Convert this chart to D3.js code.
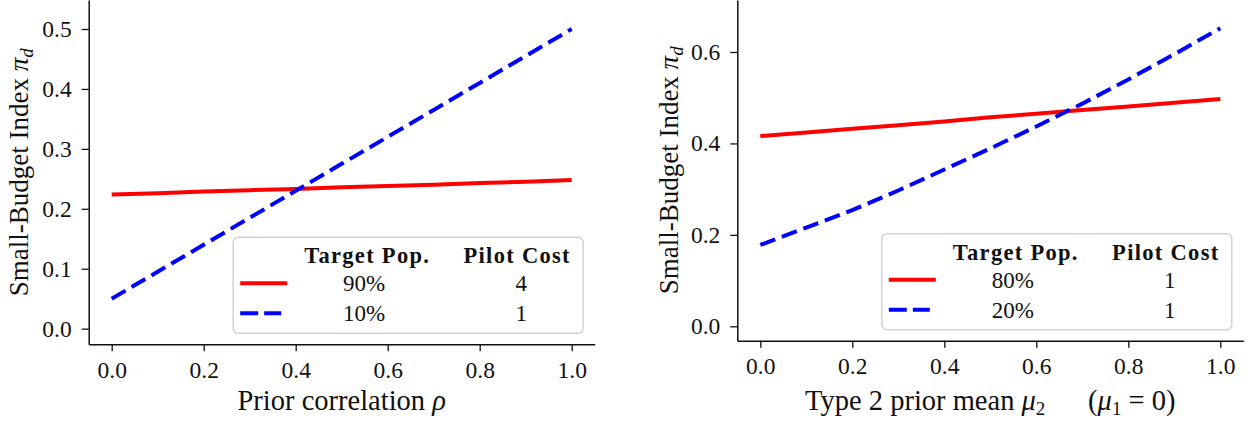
<!DOCTYPE html>
<html><head><meta charset="utf-8">
<script src="https://cdn.jsdelivr.net/npm/d3@7/dist/d3.min.js"></script>
<style>
body{margin:0;background:#fff;}
svg{display:block;}
text{font-family:"Liberation Serif",serif;fill:#111;}
</style></head>
<body><svg id="c" width="1250" height="421"></svg>
<script>
// ---- data ----
const xValues = [0, 0.1, 0.2, 0.3, 0.4, 0.5, 0.6, 0.7, 0.8, 0.9, 1.0];
const leftRed  = [0.224, 0.226, 0.229, 0.231, 0.233, 0.236, 0.238, 0.240, 0.243, 0.245, 0.248];
const leftBlue = [0.050, 0.095, 0.140, 0.185, 0.230, 0.275, 0.320, 0.365, 0.410, 0.455, 0.500];
const rightRed  = [0.416, 0.424, 0.432, 0.440, 0.448, 0.457, 0.465, 0.473, 0.481, 0.489, 0.497];
const rightBlue = [0.178, 0.216, 0.254, 0.297, 0.343, 0.389, 0.437, 0.487, 0.540, 0.595, 0.652];
const xTicks = [0, 0.2, 0.4, 0.6, 0.8, 1.0];
const leftYTicks = [0, 0.1, 0.2, 0.3, 0.4, 0.5];
const rightYTicks = [0, 0.2, 0.4, 0.6];
const legendHeader = ["Target Pop.", "Pilot Cost"];
const leftLegendRows = [["90%", "4"], ["10%", "1"]];
const rightLegendRows = [["80%", "1"], ["20%", "1"]];

const svg = d3.select("#c");
const fmt = d3.format(".1f");

function panel(o) {
  const g = svg.append("g");
  const x = d3.scaleLinear().domain([-0.05, 1.05]).range([o.x0, o.x1]);
  const y = d3.scaleLinear().domain(o.yDomain).range([o.y0, 0]);

  const line = d3.line().x((d, i) => x(xValues[i])).y(d => y(d));
  g.append("path").datum(o.red).attr("d", line)
    .attr("fill", "none").attr("stroke", "#ff0000").attr("stroke-width", 4);
  g.append("path").datum(o.blue).attr("d", line)
    .attr("fill", "none").attr("stroke", "#0000ff").attr("stroke-width", 4)
    .attr("stroke-dasharray", "16,7");

  const ax = g.append("g").attr("transform", `translate(0,${o.y0})`)
    .call(d3.axisBottom(x).tickValues(xTicks).tickFormat(fmt).tickSize(7).tickPadding(10).tickSizeOuter(0));
  const ay = g.append("g").attr("transform", `translate(${o.x0},0)`)
    .call(d3.axisLeft(y).tickValues(o.yTicks).tickFormat(fmt).tickSize(7).tickPadding(10).tickSizeOuter(0));
  [ax, ay].forEach(a => {
    a.select(".domain").attr("stroke", "#111").attr("stroke-width", 1.5);
    a.selectAll(".tick line").attr("stroke", "#111").attr("stroke-width", 1.3);
    a.selectAll(".tick text").style("font-family", "Liberation Serif").style("font-size", "23.5px").attr("fill", "#111");
  });

  // y label
  const yl = g.append("text")
    .attr("transform", `translate(${o.yLabelX},${o.y0 / 2}) rotate(-90)`)
    .attr("text-anchor", "middle").style("font-size", "27px");
  yl.append("tspan").text("Small-Budget Index ");
  yl.append("tspan").style("font-style", "italic").text("π");
  yl.append("tspan").style("font-style", "italic").style("font-size", "19px").attr("dy", 5).text("d");

  // x label
  const xl = g.append("text").attr("x", (o.x0 + o.x1) / 2).attr("y", 410)
    .attr("text-anchor", "middle").style("font-size", "28.5px");
  o.xLabel(xl);

  // legend
  const lw = 350, lh = 96;
  const lx = o.x1 - 11.5 - lw, ly = o.y0 - 11 - lh;
  const lg = g.append("g").attr("transform", `translate(${lx},${ly})`);
  lg.append("rect").attr("width", lw).attr("height", lh).attr("rx", 5)
    .attr("fill", "rgba(255,255,255,0.85)").attr("stroke", "#d4d4d4").attr("stroke-width", 1.6);
  lg.append("text").attr("x", 134).attr("y", 18).attr("dy", "0.35em").attr("text-anchor", "middle")
    .style("font-size", "22.5px").style("font-weight", "bold").style("letter-spacing", "1.3px").text(legendHeader[0]);
  lg.append("text").attr("x", 284).attr("y", 18).attr("dy", "0.35em").attr("text-anchor", "middle")
    .style("font-size", "22.5px").style("font-weight", "bold").style("letter-spacing", "1.3px").text(legendHeader[1]);
  const rowY = [46, 76];
  const colors = ["#ff0000", "#0000ff"];
  o.rows.forEach((r, i) => {
    const l = lg.append("line").attr("x1", 7).attr("x2", 54).attr("y1", rowY[i]).attr("y2", rowY[i])
      .attr("stroke", colors[i]).attr("stroke-width", 4);
    if (i === 1) l.attr("x2", 48).attr("stroke-dasharray", "18,6,17,100");
    lg.append("text").attr("x", 131).attr("y", rowY[i]).attr("dy", "0.35em").attr("text-anchor", "middle")
      .style("font-size", "23px").text(r[0]);
    lg.append("text").attr("x", 288).attr("y", rowY[i]).attr("dy", "0.35em").attr("text-anchor", "middle")
      .style("font-size", "23px").text(r[1]);
  });
}

panel({
  x0: 88.7, x1: 594.7, y0: 344.3, yDomain: [-0.0261, 0.5484],
  red: leftRed, blue: leftBlue, yTicks: leftYTicks, yLabelX: 28, rows: leftLegendRows,
  xLabel: t => {
    t.append("tspan").text("Prior correlation ");
    t.append("tspan").style("font-style", "italic").text("ρ");
  }
});
panel({
  x0: 737.3, x1: 1243.3, y0: 340.7, yDomain: [-0.0315, 0.7137],
  red: rightRed, blue: rightBlue, yTicks: rightYTicks, yLabelX: 678, rows: rightLegendRows,
  xLabel: t => {
    t.append("tspan").text("Type 2 prior mean ");
    t.append("tspan").style("font-style", "italic").text("μ");
    t.append("tspan").style("font-size", "19px").attr("dy", 5).text("2");
    t.append("tspan").attr("dy", -5).text("\u2003\u2002(");
    t.append("tspan").style("font-style", "italic").text("μ");
    t.append("tspan").style("font-size", "19px").attr("dy", 5).text("1");
    t.append("tspan").attr("dy", -5).text(" = 0)");
  }
});
</script></body></html>
